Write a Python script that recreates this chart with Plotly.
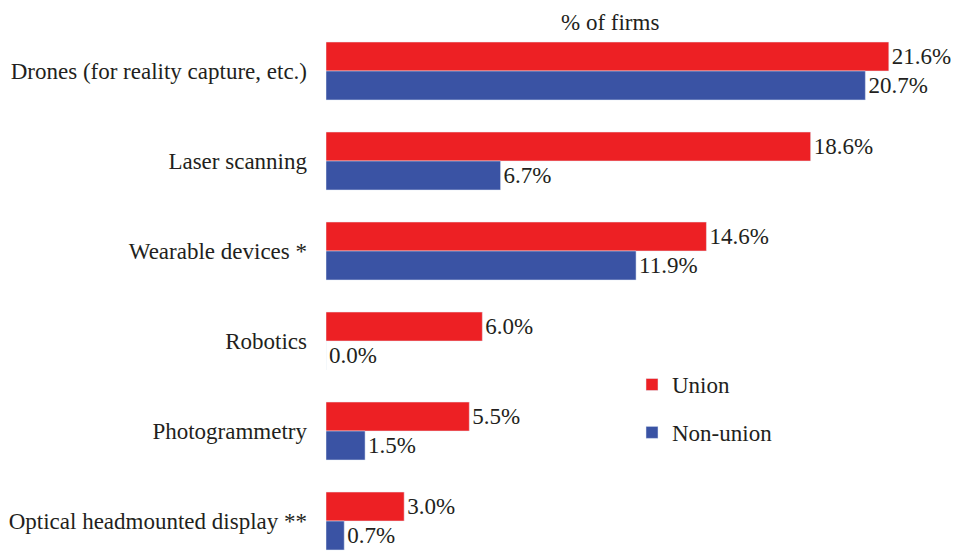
import plotly.graph_objects as go

categories = ["Drones (for reality capture, etc.)", "Laser scanning", "Wearable devices *",
              "Robotics", "Photogrammetry", "Optical headmounted display **"]
union = [21.6, 18.6, 14.6, 6.0, 5.5, 3.0]
non_union = [20.7, 6.7, 11.9, 0.0, 1.5, 0.7]

RED = "#ED2024"
BLUE = "#3A53A4"
TXT = "#231F20"
FONT = "Liberation Serif, Times New Roman, serif"
FS = 23

fig = go.Figure()
fig.add_trace(go.Bar(
    y=categories, x=union, orientation="h", name="Union", marker_color=RED,
    text=[f"{v:.1f}%" for v in union], textposition="outside", cliponaxis=False,
    textfont=dict(family=FONT, size=FS, color=TXT), legendgroup="u"))
fig.add_trace(go.Bar(
    y=categories, x=non_union, orientation="h", name="Non-union", marker_color=BLUE,
    text=[f"{v:.1f}%" for v in non_union], textposition="outside", cliponaxis=False,
    textfont=dict(family=FONT, size=FS, color=TXT), legendgroup="n"))

fig.update_layout(
    width=953, height=543,
    margin=dict(l=318, r=0, t=18, b=0, autoexpand=False),
    barmode="group", bargap=0.356, bargroupgap=0,
    plot_bgcolor="white", paper_bgcolor="white",
    font=dict(family=FONT, size=FS, color=TXT),
    xaxis=dict(range=[0, 24.37], showgrid=False, zeroline=False, showticklabels=False,
               showline=False, ticks="", automargin=False),
    yaxis=dict(categoryorder="array", categoryarray=categories, range=[5.333, -0.5],
               showgrid=False, zeroline=False, showline=False, ticks="", automargin=False,
               ticklabelstandoff=18, tickfont=dict(family=FONT, size=FS, color=TXT)),
    legend=dict(x=0.4819, y=0.358, xanchor="left", yanchor="top", tracegroupgap=15,
                font=dict(family=FONT, size=FS, color=TXT), bgcolor="rgba(0,0,0,0)"),
    annotations=[dict(text="% of firms", x=(602 - 318) / 635, xref="paper",
                      y=1, yref="paper", showarrow=False, yanchor="middle", yshift=4,
                      font=dict(family=FONT, size=FS, color=TXT))],
)

fig.write_html("out.html")
